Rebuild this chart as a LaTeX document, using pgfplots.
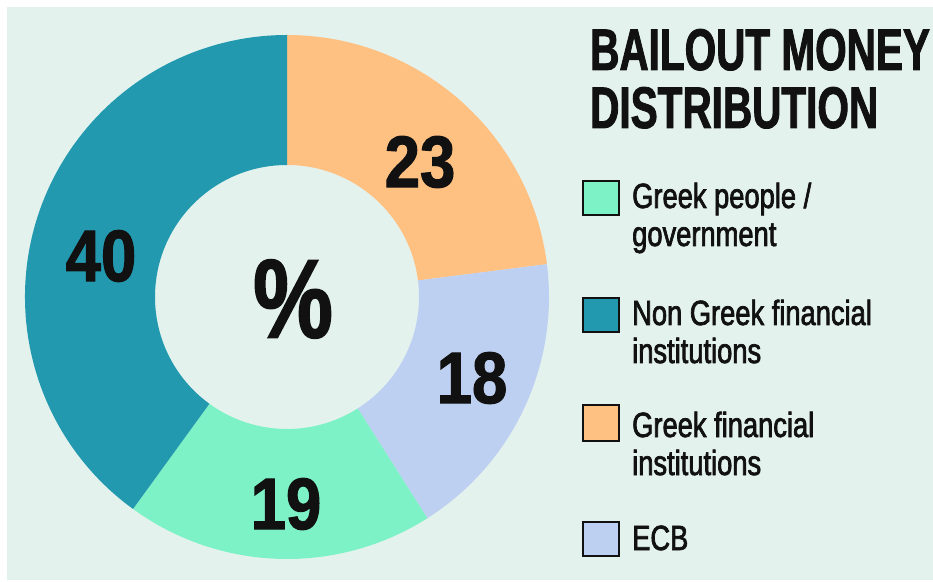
\documentclass[border=0pt]{standalone}
\usepackage{pgfplots}
\usepackage{pgfplotstable}
\pgfplotsset{compat=1.18}
\usepackage{fontspec}
\setmainfont{Liberation Sans}
\newfontfamily\titlefont[FakeStretch=0.69,FakeBold=1.5]{Liberation Sans Bold}
\newfontfamily\legfont[FakeStretch=0.78,FakeBold=2]{Liberation Sans}
\newfontfamily\numfont[FakeStretch=0.87,FakeBold=1.5]{Liberation Sans Bold}
\newfontfamily\pctfont[FakeStretch=0.8,FakeBold=1.5]{Liberation Sans Bold}

\definecolor{bgc}{RGB}{228,242,238}
\definecolor{tealc}{RGB}{34,153,175}
\definecolor{orangec}{RGB}{255,193,130}
\definecolor{ecbc}{RGB}{190,208,242}
\definecolor{mintc}{RGB}{125,242,198}
\definecolor{inkc}{RGB}{17,17,17}

% shares in percent, clockwise from 12 o'clock
\pgfplotstableread{
name value
GreekFinancial 23
ECB 18
GreekPeople 19
NonGreek 40
}\sharetable

\pgfplotstablegetelem{0}{value}\of\sharetable \pgfmathsetmacro\aOne{90-3.6*\pgfplotsretval}
\pgfplotstablegetelem{1}{value}\of\sharetable \pgfmathsetmacro\aTwo{\aOne-3.6*\pgfplotsretval}
\pgfplotstablegetelem{2}{value}\of\sharetable \pgfmathsetmacro\aThree{\aTwo-3.6*\pgfplotsretval}
\pgfplotstablegetelem{3}{value}\of\sharetable \pgfmathsetmacro\aFour{\aThree-3.6*\pgfplotsretval}

\def\cx{287}\def\cy{284}\def\Ro{262}\def\Ri{132}
\newcommand\donutslice[3]{%
  \fill[#3] (axis cs:{\cx+\Ro*cos(#1)},{\cy+\Ro*sin(#1)})
    arc[start angle=#1, end angle=#2, radius=\Ro pt]
    -- (axis cs:{\cx+\Ri*cos(#2)},{\cy+\Ri*sin(#2)})
    arc[start angle=#2, end angle=#1, radius=\Ri pt] -- cycle;}

\begin{document}
\begin{tikzpicture}
\begin{axis}[x=1pt, y=1pt, xmin=0, xmax=933, ymin=0, ymax=581,
  hide axis, clip=false, scale only axis]
\fill[white] (axis cs:0,0) rectangle (axis cs:933,581);
\fill[bgc] (axis cs:7,1) rectangle (axis cs:933,574);
\donutslice{90}{\aOne}{orangec}
\donutslice{\aOne}{\aTwo}{ecbc}
\donutslice{\aTwo}{\aThree}{mintc}
\donutslice{\aThree}{\aFour}{tealc}
% value labels
\node[inkc, inner sep=0] at (axis cs:101,325) {\numfont\fontsize{73}{73}\selectfont 40};
\node[inkc, inner sep=0] at (axis cs:420,419) {\numfont\fontsize{73}{73}\selectfont 23};
\node[inkc, inner sep=0] at (axis cs:472,203) {\numfont\fontsize{73}{73}\selectfont 18};
\node[inkc, inner sep=0] at (axis cs:286,77) {\numfont\fontsize{73}{73}\selectfont 19};
\node[inkc, inner sep=0] at (axis cs:293,282) {\pctfont\fontsize{112}{112}\selectfont \%};
% title
\node[inkc, inner sep=0, anchor=base west] at (axis cs:590,511) {\titlefont\fontsize{58.7}{58.7}\selectfont BAILOUT MONEY};
\node[inkc, inner sep=0, anchor=base west] at (axis cs:590,453) {\titlefont\fontsize{58.7}{58.7}\selectfont DISTRIBUTION};
% legend
\filldraw[fill=mintc, draw=inkc, line width=1.6pt] (axis cs:583,366) rectangle (axis cs:619,400);
\filldraw[fill=tealc, draw=inkc, line width=1.6pt] (axis cs:583,249) rectangle (axis cs:619,283);
\filldraw[fill=orangec, draw=inkc, line width=1.6pt] (axis cs:583,140) rectangle (axis cs:619,176);
\filldraw[fill=ecbc, draw=inkc, line width=1.6pt] (axis cs:583,25) rectangle (axis cs:619,59);
\begin{scope}[every node/.style={inkc, inner sep=0, anchor=base west, font=\legfont\fontsize{35}{35}\selectfont}]
\node at (axis cs:632,373) {Greek people /};
\node at (axis cs:632,335) {government};
\node at (axis cs:632,256) {Non Greek financial};
\node at (axis cs:632,218) {institutions};
\node at (axis cs:632,144) {Greek financial};
\node at (axis cs:632,106) {institutions};
\node at (axis cs:632,31) {ECB};
\end{scope}
\end{axis}
\pgfresetboundingbox
\path[use as bounding box] (current axis.south west) rectangle (current axis.north east);
\end{tikzpicture}
\end{document}
